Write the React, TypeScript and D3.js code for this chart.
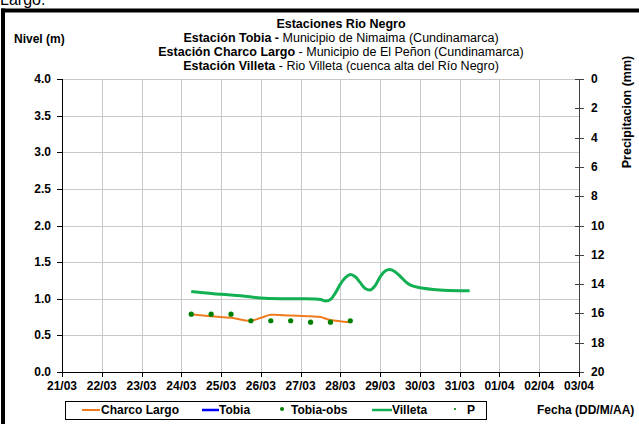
import React from "react";
import * as d3 from "d3";

// ---- Data ----
const dayLabels = ["21/03","22/03","23/03","24/03","25/03","26/03","27/03","28/03","29/03","30/03","31/03","01/04","02/04","03/04"];
const levelTicks = [0, 0.5, 1, 1.5, 2, 2.5, 3, 3.5, 4];
const precipTicks = [0, 2, 4, 6, 8, 10, 12, 14, 16, 18, 20];

const villetaTimes = [
  "2009-03-24T06:00","2009-03-25T00:00","2009-03-25T12:00","2009-03-26T00:00","2009-03-26T12:00",
  "2009-03-27T00:00","2009-03-27T12:00","2009-03-27T15:00","2009-03-27T18:00","2009-03-27T21:00",
  "2009-03-28T00:00","2009-03-28T03:00","2009-03-28T06:00","2009-03-28T09:00","2009-03-28T12:00",
  "2009-03-28T15:00","2009-03-28T18:00","2009-03-28T21:00","2009-03-29T00:00","2009-03-29T03:00",
  "2009-03-29T06:00","2009-03-29T09:00","2009-03-29T12:00","2009-03-29T15:00","2009-03-29T18:00",
  "2009-03-30T00:00","2009-03-30T12:00","2009-03-31T00:00","2009-03-31T06:00"
];
const villetaValues = [
  1.10, 1.06, 1.04, 1.01, 1.00,
  1.00, 0.99, 0.97, 0.99, 1.08,
  1.20, 1.29, 1.33, 1.30, 1.22,
  1.14, 1.12, 1.18, 1.30, 1.38,
  1.40, 1.37, 1.31, 1.24, 1.19,
  1.15, 1.12, 1.11, 1.11
];

const charcoTimes = [
  "2009-03-24T06:00","2009-03-24T18:00","2009-03-25T06:00","2009-03-25T18:00","2009-03-26T00:00",
  "2009-03-26T06:00","2009-03-26T18:00","2009-03-27T06:00","2009-03-27T12:00","2009-03-27T18:00",
  "2009-03-28T06:00"
];
const charcoValues = [0.79, 0.76, 0.74, 0.70, 0.74, 0.78, 0.77, 0.76, 0.75, 0.71, 0.68];

const tobiaObsTimes = [
  "2009-03-24T06:00","2009-03-24T18:00","2009-03-25T06:00","2009-03-25T18:00","2009-03-26T06:00",
  "2009-03-26T18:00","2009-03-27T06:00","2009-03-27T18:00","2009-03-28T06:00"
];
const tobiaObsValues = [0.79, 0.79, 0.79, 0.70, 0.70, 0.70, 0.68, 0.68, 0.70];

const tobiaTimes: string[] = [];
const tobiaValues: number[] = [];
const precipTimes: string[] = [];
const precipValues: number[] = [];

// ---- Layout ----
const W = 639, H = 424;
const L = 62, R = 579, T = 79, B = 372;
const FONT = "'Liberation Sans', Arial, Helvetica, sans-serif";

const parse = d3.utcParse("%Y-%m-%dT%H:%M");

export default function App() {
  const x = d3.scaleUtc()
    .domain([parse("2009-03-21T00:00")!, parse("2009-04-03T00:00")!])
    .range([L, R]);
  const y = d3.scaleLinear().domain([0, 4]).range([B, T]);
  const yP = d3.scaleLinear().domain([0, 20]).range([T, B]);
  const dayTicks = d3.utcDay.range(parse("2009-03-21T00:00")!, parse("2009-04-03T01:00")!);

  const line = d3.line<[Date, number]>()
    .x(d => x(d[0]))
    .y(d => y(d[1]))
    .curve(d3.curveCatmullRom.alpha(0.5));

  const zip = (t: string[], v: number[]) => t.map((s, i) => [parse(s)!, v[i]] as [Date, number]);
  const villeta = zip(villetaTimes, villetaValues);
  const charco = zip(charcoTimes, charcoValues);
  const tobia = zip(tobiaTimes, tobiaValues);
  const tobiaObs = zip(tobiaObsTimes, tobiaObsValues);
  const precip = precipTimes.map((s, i) => [parse(s)!, precipValues[i]] as [Date, number]);

  const orange = "#f07a1e";
  const green = "#12b052";
  const dotGreen = "#008000";
  const blue = "#0000ff";

  const legendY = 410;

  return (
    <svg width={W} height={H} style={{ position: "absolute", left: 0, top: 0, background: "#fff" }}
      fontFamily={FONT}>
      <rect x={0} y={0} width={W} height={H} fill="#fff" />
      {/* text of the page above the frame, cut by the picture's top edge */}
      <text x={0} y={5} fontSize={16} fill="#000">Largo.</text>
      {/* frame */}
      <line x1={3} y1={8.5} x2={3} y2={H} stroke="#000" strokeWidth={4} />
      <line x1={1} y1={10.5} x2={W} y2={10.5} stroke="#000" strokeWidth={4} />

      {/* titles */}
      <g fontSize={12.5} textAnchor="middle" fill="#000">
        <text x={341} y={28} fontWeight="bold">Estaciones Rio Negro</text>
        <text x={341} y={42}>
          <tspan fontWeight="bold">Estación Tobia  - </tspan>
          <tspan>Municipio de Nimaima (Cundinamarca)</tspan>
        </text>
        <text x={341} y={56}>
          <tspan fontWeight="bold">Estación Charco Largo</tspan>
          <tspan> - Municipio de El Peñon (Cundinamarca)</tspan>
        </text>
        <text x={341} y={70}>
          <tspan fontWeight="bold">Estación Villeta</tspan>
          <tspan> -  Rio Villeta (cuenca alta del Río Negro)</tspan>
        </text>
      </g>
      <text x={14} y={43} fontSize={12} fontWeight="bold">Nivel (m)</text>
      <text transform={`translate(631,${112}) rotate(-90)`} fontSize={12.5} fontWeight="bold" textAnchor="middle">
        Precipitacion (mm)
      </text>

      {/* grid */}
      <g stroke="#c8c8c8" strokeWidth={1}>
        {levelTicks.map(t => (
          <line key={"h" + t} x1={L} x2={R} y1={Math.round(y(t)) + 0.5} y2={Math.round(y(t)) + 0.5} />
        ))}
        {dayTicks.slice(1, -1).map((d, i) => (
          <line key={"v" + i} x1={Math.round(x(d)) + 0.5} x2={Math.round(x(d)) + 0.5} y1={T} y2={B} />
        ))}
      </g>

      {/* left axis */}
      <g>
        <line x1={L + 0.5} x2={L + 0.5} y1={T} y2={B + 0.5} stroke="#000" />
        {levelTicks.map(t => (
          <g key={"lt" + t}>
            <line x1={L - 5} x2={L} y1={Math.round(y(t)) + 0.5} y2={Math.round(y(t)) + 0.5} stroke="#000" />
            <text x={51} y={y(t) + 4} fontSize={12} fontWeight="bold" textAnchor="end">{t.toFixed(1)}</text>
          </g>
        ))}
      </g>

      {/* right axis */}
      <g>
        <line x1={R + 0.5} x2={R + 0.5} y1={T} y2={B + 0.5} stroke="#404040" />
        {precipTicks.map(t => (
          <g key={"rt" + t}>
            <line x1={R - 4} x2={R + 5} y1={Math.round(yP(t)) + 0.5} y2={Math.round(yP(t)) + 0.5} stroke="#404040" />
            <text x={591} y={yP(t) + 4} fontSize={12} fontWeight="bold">{t}</text>
          </g>
        ))}
      </g>

      {/* bottom axis */}
      <g>
        <line x1={L} x2={R + 1} y1={B + 0.5} y2={B + 0.5} stroke="#000" />
        {dayTicks.map((d, i) => (
          <g key={"bt" + i}>
            <line x1={Math.round(x(d)) + 0.5} x2={Math.round(x(d)) + 0.5} y1={B} y2={B + 5} stroke="#000" />
            <text x={x(d)} y={390} fontSize={12} fontWeight="bold" textAnchor="middle">{dayLabels[i]}</text>
          </g>
        ))}
      </g>

      {/* series */}
      <path d={line(villeta) || ""} fill="none" stroke={green} strokeWidth={3} />
      <path d={line(charco) || ""} fill="none" stroke={orange} strokeWidth={2} />
      {tobia.length > 0 && <path d={line(tobia) || ""} fill="none" stroke={blue} strokeWidth={2} />}
      {tobiaObs.map((d, i) => (
        <circle key={"o" + i} cx={x(d[0])} cy={y(d[1])} r={2.6} fill={dotGreen} />
      ))}
      {precip.map((d, i) => (
        <circle key={"p" + i} cx={x(d[0])} cy={yP(d[1])} r={1.3} fill={dotGreen} />
      ))}

      {/* legend */}
      <rect x={65.5} y={401.5} width={421} height={18} fill="#fff" stroke="#000" strokeWidth={1} />
      <g fontSize={12} fontWeight="bold">
        <line x1={82} x2={100} y1={legendY} y2={legendY} stroke={orange} strokeWidth={2} />
        <text x={101} y={legendY + 4}>Charco Largo</text>
        <line x1={202} x2={219} y1={legendY} y2={legendY} stroke={blue} strokeWidth={2.5} />
        <text x={219} y={legendY + 4}>Tobia</text>
        <circle cx={282} cy={legendY - 1} r={2} fill={dotGreen} />
        <text x={291} y={legendY + 4}>Tobia-obs</text>
        <line x1={372} x2={392} y1={legendY} y2={legendY} stroke={green} strokeWidth={2.5} />
        <text x={392} y={legendY + 4}>Villeta</text>
        <circle cx={455} cy={legendY - 1} r={1.1} fill={dotGreen} />
        <text x={467} y={legendY + 4}>P</text>
      </g>
      <text x={537} y={414} fontSize={12} fontWeight="bold">Fecha (DD/M/AA)</text>
    </svg>
  );
}
